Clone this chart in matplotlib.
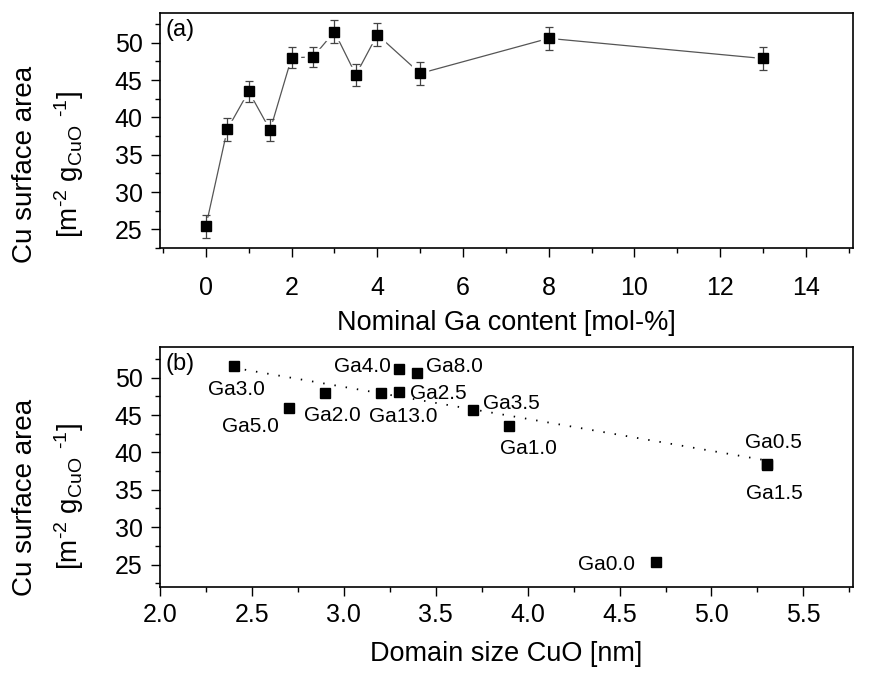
import numpy as np
import matplotlib
matplotlib.use("Agg")
import matplotlib.pyplot as plt
from matplotlib.ticker import MultipleLocator, FormatStrFormatter

plt.rcParams['font.family'] = ['Liberation Sans', 'DejaVu Sans']
plt.rcParams['mathtext.fontset'] = 'custom'
plt.rcParams['mathtext.rm'] = 'Liberation Sans'
plt.rcParams['mathtext.it'] = 'Liberation Sans'
plt.rcParams['mathtext.default'] = 'regular'

# (a) Cu surface area vs nominal Ga content
ga_content = [0, 0.5, 1, 1.5, 2, 2.5, 3, 3.5, 4, 5, 8, 13]
cu_area = [25.4, 38.4, 43.5, 38.3, 48.0, 48.1, 51.5, 45.7, 51.1, 45.9, 50.6, 47.9]
cu_area_err = [1.5, 1.5, 1.4, 1.5, 1.4, 1.4, 1.5, 1.5, 1.5, 1.5, 1.5, 1.5]

# (b) Cu surface area vs CuO domain size
sample_names = ['Ga0.0', 'Ga0.5', 'Ga1.0', 'Ga1.5', 'Ga2.0', 'Ga2.5', 'Ga3.0',
                'Ga3.5', 'Ga4.0', 'Ga5.0', 'Ga8.0', 'Ga13.0']
domain_size = [4.7, 5.3, 3.9, 5.3, 2.9, 3.3, 2.4, 3.7, 3.3, 2.7, 3.4, 3.2]

# label placement (offset in pixels, horizontal alignment)
label_pos = {
    'Ga0.0': (-21, -3, 'right'),
    'Ga0.5': (7, 22, 'center'),
    'Ga1.0': (19, -22, 'center'),
    'Ga1.5': (8, -28, 'center'),
    'Ga2.0': (7, -23, 'center'),
    'Ga2.5': (11, -2, 'left'),
    'Ga3.0': (3, -23, 'center'),
    'Ga3.5': (10, 6, 'left'),
    'Ga4.0': (-8, 3, 'right'),
    'Ga5.0': (-38, -18, 'center'),
    'Ga8.0': (9, 7, 'left'),
    'Ga13.0': (23, -23, 'center'),
}

fig = plt.figure(figsize=(8.7, 6.73), dpi=100)
ax1 = fig.add_axes([0.1839, 0.6315, 0.7966, 0.3492])
ax2 = fig.add_axes([0.1839, 0.1278, 0.7966, 0.3566])

TICK_FS = 18
XLABEL_FS = 19.5
YLABEL_FS = 20
ANN_FS = 15
ylabel = 'Cu surface area\n[m$^{\\text{-2}}$ g$_{CuO}$ $^{\\text{-1}}$]'

for ax in (ax1, ax2):
    for sp in ax.spines.values():
        sp.set_linewidth(1.2)
    ax.tick_params(which='both', direction='out', top=False, right=False,
                   labelsize=TICK_FS, width=1.0)
    ax.tick_params(which='major', length=6.5)
    ax.tick_params(which='minor', length=3.5)
    ax.tick_params(axis='y', pad=6)
    ax.yaxis.set_major_locator(MultipleLocator(5))
    ax.yaxis.set_minor_locator(MultipleLocator(2.5))

fig.text(0.0563, 0.755, ylabel, rotation=90, ha='center', va='center',
         multialignment='center', fontsize=YLABEL_FS, linespacing=1.55)
fig.text(0.0563, 0.2615, ylabel, rotation=90, ha='center', va='center',
         multialignment='center', fontsize=YLABEL_FS, linespacing=1.55)

# panel (a)
ax1.plot(ga_content, cu_area, color='#555555', lw=0.9, zorder=1)
ax1.plot(ga_content, cu_area, 's', ms=11, mfc='white', mec='white', zorder=2)
ax1.errorbar(ga_content, cu_area, yerr=cu_area_err, fmt='none', ecolor='#444444',
             elinewidth=0.9, capsize=3.2, capthick=0.9, zorder=3)
ax1.plot(ga_content, cu_area, 's', ms=7.6, color='black', zorder=4)
ax1.set_xlim(-1.07, 15.1)
ax1.set_ylim(22.5, 54.0)
ax1.xaxis.set_major_locator(MultipleLocator(2))
ax1.xaxis.set_minor_locator(MultipleLocator(1))
ax1.tick_params(axis='x', pad=14)
ax1.set_xlabel('Nominal Ga content [mol-%]', fontsize=XLABEL_FS)
ax1.xaxis.set_label_coords(0.5, -0.265)
ax1.text(0.008, 0.975, '(a)', transform=ax1.transAxes, fontsize=17,
         ha='left', va='top')

# panel (b)
area_by_name = dict(zip(['Ga' + ('%.1f' % c) for c in ga_content], cu_area))
area_b = [area_by_name[n] for n in sample_names]

fit_x = [x for x, n in zip(domain_size, sample_names) if n != 'Ga0.0']
fit_y = [y for y, n in zip(area_b, sample_names) if n != 'Ga0.0']
slope, intercept = np.polyfit(fit_x, fit_y, 1)
xs = np.array([min(fit_x), max(fit_x)])
ax2.plot(xs, slope * xs + intercept, color='black', lw=1.3,
         linestyle=(0, (0.8, 5.5)), zorder=1)
ax2.plot(domain_size, area_b, 's', ms=7.4, color='black', zorder=3)
for n, x, y in zip(sample_names, domain_size, area_b):
    dx, dy, ha = label_pos[n]
    ax2.annotate(n, (x, y), xytext=(dx, dy), textcoords='offset pixels',
                 ha=ha, va='center', fontsize=ANN_FS)
ax2.set_xlim(2.0, 5.77)
ax2.set_ylim(22.0, 54.1)
ax2.xaxis.set_major_locator(MultipleLocator(0.5))
ax2.xaxis.set_minor_locator(MultipleLocator(0.25))
ax2.xaxis.set_major_formatter(FormatStrFormatter('%.1f'))
ax2.tick_params(axis='x', pad=5)
ax2.set_xlabel('Domain size CuO [nm]', fontsize=XLABEL_FS)
ax2.xaxis.set_label_coords(0.5, -0.225)
ax2.text(0.008, 0.975, '(b)', transform=ax2.transAxes, fontsize=17,
         ha='left', va='top')

fig.savefig('out.png', dpi=100)
